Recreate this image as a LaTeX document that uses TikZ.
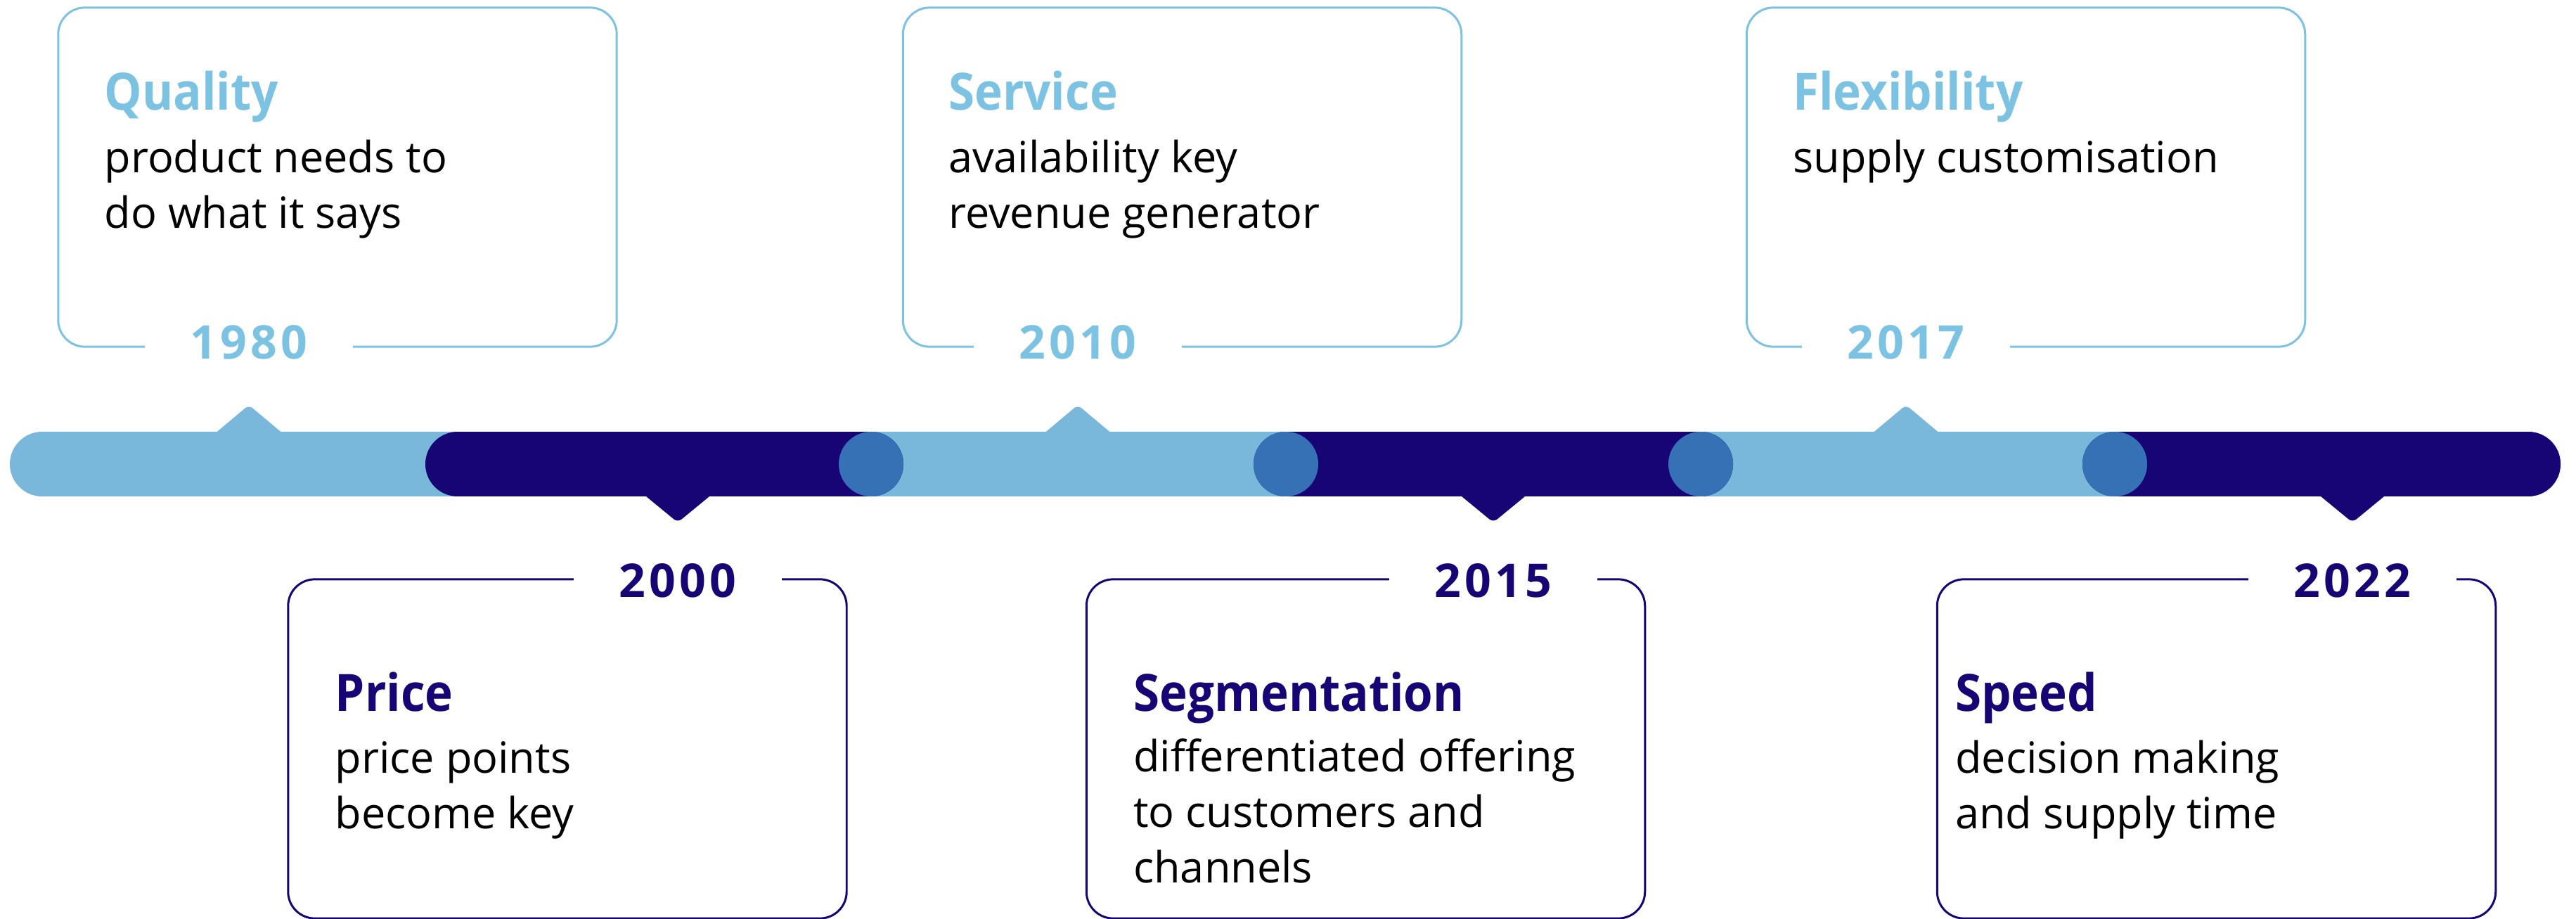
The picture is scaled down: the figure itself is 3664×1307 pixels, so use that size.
\documentclass[tikz,border=0pt]{standalone}
\usepackage{fontspec}
\setmainfont{Open Sans}
\newfontfamily\yearfont[LetterSpace=8]{Open Sans}
\newfontfamily\headfont[FakeStretch=0.92]{Open Sans}
\usetikzlibrary{positioning}
\definecolor{skyline}{RGB}{124,194,227}
\definecolor{barlight}{RGB}{121,184,219}
\definecolor{navy}{RGB}{23,4,117}
\definecolor{joint}{RGB}{54,113,182}
\tikzset{
  base/.style={inner sep=0pt, outer sep=0mm},
  upbox/.style={rectangle, draw=skyline, line width=0.85pt, rounded corners=0.38cm, minimum width=7.94cm, minimum height=4.82cm, base},
  downbox/.style={upbox, draw=navy},
  heading/.style={base, anchor=base west, font=\headfont\fontsize{20.8}{25}\selectfont\bfseries},
  body/.style={base, anchor=base west, align=left, font=\fontsize{17.4}{22.5}\selectfont},
  year/.style={base, fill=white, minimum width=2.96cm, inner ysep=2pt, font=\yearfont\fontsize{18.8}{20}\selectfont\bfseries},
  bar/.style={line width=0.92cm, line cap=round},
  pointer/.style={rounded corners=2pt}
}

\begin{document}
\begin{tikzpicture}[x=0.01cm, y=-0.01cm]
  \useasboundingbox (0,0) rectangle (3664,1307);

  \node[upbox] (quality) at (480,252) {};
  \node[upbox] (service) at (1681.5,252) {};
  \node[upbox] (flex) at (2881.5,252) {};
  \node[downbox] (price) at (807,1065) {};
  \node[downbox] (segment) at (1942.5,1065) {};
  \node[downbox] (speed) at (3152.5,1065) {};

  % body anchors sit on the last line
  \node[heading, text=skyline] (qualityT) at ([shift={(66,146)}]quality.north west) {Quality};
  \node[body] (qualityB) at ([shift={(66,314)}]quality.north west) {product needs to\\do what it says};
  \node[heading, text=skyline] (serviceT) at ([shift={(65,146)}]service.north west) {Service};
  \node[body] (serviceB) at ([shift={(65,314)}]service.north west) {availability key\\revenue generator};
  \node[heading, text=skyline] (flexT) at ([shift={(66,146)}]flex.north west) {Flexibility};
  \node[body] (flexB) at ([shift={(66,235)}]flex.north west) {supply customisation};

  \node[heading, text=navy] (priceT) at ([shift={(67,188)}]price.north west) {Price};
  \node[body] (priceB) at ([shift={(67,355)}]price.north west) {price points\\become key};
  \node[heading, text=navy] (segmentT) at ([shift={(67,188)}]segment.north west) {Segmentation};
  \node[body] (segmentB) at ([shift={(67,432)}]segment.north west) {differentiated offering\\to customers and\\channels};
  \node[heading, text=navy] (speedT) at ([shift={(26,188)}]speed.north west) {Speed};
  \node[body] (speedB) at ([shift={(26,355)}]speed.north west) {decision making\\and supply time};

  \node[year, text=skyline] (y1980) at (354,487) {1980};
  \node[year, text=skyline] (y2010) at (1533,487) {2010};
  \node[year, text=skyline] (y2017) at (2711,487) {2017};
  \node[year, text=navy] (y2000) at (964,826) {2000};
  \node[year, text=navy] (y2015) at (2124,826) {2015};
  \node[year, text=navy] (y2022) at (3346,826) {2022};

  \fill[barlight, pointer] (254,660) -- (354,576) -- (454,660) -- cycle;
  \fill[barlight, pointer] (1433,660) -- (1533,576) -- (1633,660) -- cycle;
  \fill[barlight, pointer] (2611,660) -- (2711,576) -- (2811,660) -- cycle;
  \fill[navy, pointer] (863,660) -- (964,743) -- (1065,660) -- cycle;
  \fill[navy, pointer] (2023,660) -- (2124,743) -- (2225,660) -- cycle;
  \fill[navy, pointer] (3245,660) -- (3346,743) -- (3447,660) -- cycle;

  \draw[bar, barlight] (60,660) -- (3596,660);
  \draw[bar, navy] (651,660) -- (1239,660);
  \draw[bar, navy] (1829,660) -- (2419,660);
  \draw[bar, navy] (3008,660) -- (3596,660);
  \fill[joint] (1239,660) circle (0.46cm);
  \fill[joint] (1829,660) circle (0.46cm);
  \fill[joint] (2419,660) circle (0.46cm);
  \fill[joint] (3008,660) circle (0.46cm);
\end{tikzpicture}
\end{document}
